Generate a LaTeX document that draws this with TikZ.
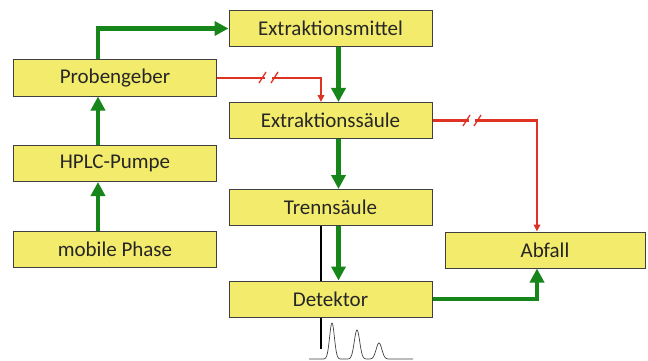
\documentclass[tikz,border=0pt]{standalone}
\usepackage{fontspec}
\setmainfont{Carlito}
\usetikzlibrary{arrows.meta,calc}
\definecolor{boxfill}{HTML}{F2EB6B}
\definecolor{boxdraw}{HTML}{404040}
\definecolor{flowgreen}{HTML}{17861A}
\definecolor{flowred}{HTML}{E03222}
\begin{document}
\begin{tikzpicture}[x=1pt,y=-1pt,
  box/.style={draw=boxdraw,line width=1pt,fill=boxfill,minimum width=203pt,minimum height=36pt,inner sep=0pt,font=\fontsize{21}{24}\selectfont,text=black!85},
  gflow/.style={draw=flowgreen,line width=4.5pt,-{Triangle[width=14pt,length=14pt]}},
  rflow/.style={draw=flowred,line width=2.2pt,-{Triangle[width=6.5pt,length=7pt]}},
  breakmark/.style={draw=flowred,line width=1.3pt}]
\useasboundingbox (0,0) rectangle (648,361);
\node[box] (em) at (330.5,28.5) {Extraktionsmittel};
\node[box] (pg) at (115,78) {Probengeber};
\node[box] (es) at (330.5,120.5) {Extraktionss\"aule};
\node[box] (hp) at (115,163.5) {HPLC-Pumpe};
\node[box] (ts) at (330.5,207.5) {Trenns\"aule};
\node[box] (mp) at (115,249.5) {mobile Phase};
\node[box,minimum width=200pt] (ab) at (545,250) {Abfall};
\node[box] (de) at (330.5,299) {Detektor};
% green flows
\draw[gflow] ([xshift=-17pt]mp.north) -- ([xshift=-17pt]hp.south);
\draw[gflow] ([xshift=-17pt]hp.north) -- ([xshift=-17pt]pg.south);
\draw[gflow] ([xshift=-17pt]pg.north) |- (em.west);
\draw[gflow] ([xshift=8pt]em.south) -- ([xshift=8pt]es.north);
\draw[gflow] ([xshift=8pt]es.south) -- ([xshift=8pt]ts.north);
\draw[gflow] ([xshift=8pt]ts.south) -- ([xshift=8pt]de.north);
\draw[gflow] (de.east) -| ([xshift=-8pt]ab.south);
% red flows
\draw[rflow] (pg.east) -| ([xshift=-9.5pt]es.north);
\draw[rflow] (es.east) -| ([xshift=-8pt]ab.north);
% break marks
\fill[white] (265,75) rectangle (272,81);
\draw[breakmark] (259,83) -- (266,72);
\draw[breakmark] (271,83) -- (278,72);
\fill[white] (469,117) rectangle (475,124);
\draw[breakmark] (463,126) -- (470,115);
\draw[breakmark] (474,126) -- (481,115);
% detector trace
\coordinate (t1) at ([xshift=-9.5pt]ts.south);
\draw[black,line width=1.3pt] (t1) -- (t1 |- de.north);
\coordinate (t2) at ([xshift=-9.5pt]de.south);
\draw[black,line width=1.3pt] (t2) -- ++(0,31);
\draw[black!75,line width=0.7pt] plot[domain=309:413,samples=260,smooth]
  (\x,{359-36*exp(-min(((\x-332)/3.4)^2,30))-29*exp(-min(((\x-357)/3.8)^2,30))-16*exp(-min(((\x-379)/4)^2,30))});
\end{tikzpicture}
\end{document}
